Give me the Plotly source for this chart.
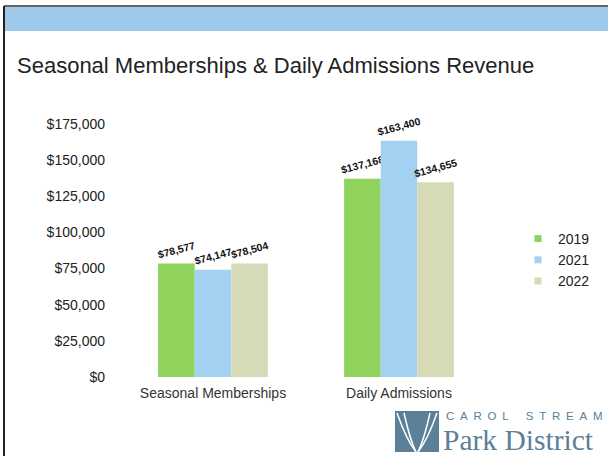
import plotly.graph_objects as go

categories = ["Seasonal Memberships", "Daily Admissions"]
years = ["2019", "2021", "2022"]
values_2019 = [78577, 137168]
values_2021 = [74147, 163400]
values_2022 = [78504, 134655]
y_ticks = [0, 25000, 50000, 75000, 100000, 125000, 150000, 175000]
y_tick_labels = ["$0", "$25,000", "$50,000", "$75,000", "$100,000", "$125,000", "$150,000", "$175,000"]

colors = {"2019": "#8fd35c", "2021": "#a3d1f2", "2022": "#d7dab6"}

W, H = 608, 456
L, R, T, B = 120, 116, 124, 79
PW, PH = W - L - R, H - T - B


def px(x):
    return (x - L) / PW


def py(y):
    return (H - B - y) / PH


fig = go.Figure()
for yr, vals in zip(years, [values_2019, values_2021, values_2022]):
    fig.add_trace(go.Bar(
        x=categories, y=vals, name=yr, marker_color=colors[yr],
        marker_line_width=0, showlegend=False, legendgroup=yr,
        texttemplate="<b>$%{y:,}</b>", textposition="outside", textangle=-15,
        constraintext="none",
        textfont=dict(size=10.5, color="#111", family="Liberation Sans, Arial"),
        cliponaxis=False,
    ))
for yr in years:
    fig.add_trace(go.Scatter(
        x=[None], y=[None], mode="markers", name=yr, legendgroup=yr,
        marker=dict(symbol="square", size=7, color=colors[yr]),
    ))

shapes = [
    dict(type="rect", xref="paper", yref="paper", x0=px(4), x1=px(608), y0=py(31), y1=py(7),
         fillcolor="#9ec9ea", line_width=0, layer="below"),
    dict(type="line", xref="paper", yref="paper", x0=px(4), x1=px(608), y0=py(6), y1=py(6),
         line=dict(color="#333", width=1.5)),
    dict(type="line", xref="paper", yref="paper", x0=px(4), x1=px(4), y0=py(6), y1=py(456),
         line=dict(color="#222", width=2)),
    dict(type="rect", xref="paper", yref="paper", x0=px(395), x1=px(439), y0=py(452), y1=py(411),
         fillcolor="#5b8097", line_width=0),
]
for (x0, x1) in [(397, 416), (404, 416), (437, 418), (430, 418)]:
    shapes.append(dict(type="path", xref="paper", yref="paper",
                       path=f"M {px(x0)},{py(413)} Q {px((x0 + x1) / 2)},{py(440)} {px(x1)},{py(452)}",
                       line=dict(color="white", width=1.5)))

sp = "\u2002"
carol = sp.join("CAROL") + sp * 3 + sp.join("STREAM")

annotations = [
    dict(text="Seasonal Memberships & Daily Admissions Revenue", xref="paper", yref="paper",
         x=px(15), y=py(65), xanchor="left", yanchor="middle", showarrow=False,
         font=dict(size=22, color="#222", family="Liberation Sans, Arial")),
    dict(text=carol, xref="paper", yref="paper", borderpad=0,
         x=px(445), y=py(416), xanchor="left", yanchor="middle", showarrow=False,
         font=dict(size=11.5, color="#5b8097", family="Liberation Sans, Arial")),
    dict(text="Park District", xref="paper", yref="paper", borderpad=0,
         x=px(442), y=py(440), xanchor="left", yanchor="middle", showarrow=False,
         font=dict(size=29.5, color="#5b8097", family="Liberation Serif, DejaVu Serif")),
]

fig.update_layout(
    width=W, height=H, margin=dict(l=L, r=R, t=T, b=B),
    paper_bgcolor="white", plot_bgcolor="white",
    barmode="group", bargap=0.41, bargroupgap=0,
    showlegend=True,
    legend=dict(x=px(518), y=py(223), xanchor="left", yanchor="top",
                font=dict(size=14, color="#222", family="Liberation Sans, Arial"),
                itemwidth=30, tracegroupgap=0, bgcolor="rgba(0,0,0,0)"),
    xaxis=dict(showline=False, showgrid=False, ticks="", ticklabelstandoff=6,
               tickfont=dict(size=14, color="#333", family="Liberation Sans, Arial")),
    yaxis=dict(range=[0, 175000], tickvals=y_ticks, ticktext=y_tick_labels,
               showgrid=False, showline=False, zeroline=False, ticks="", ticklabelstandoff=14,
               tickfont=dict(size=14, color="#222", family="Liberation Sans, Arial")),
    shapes=shapes, annotations=annotations,
    font=dict(family="Liberation Sans, Arial"),
)

fig.write_html("out.html", config={"displayModeBar": False},
               post_script="document.body.style.margin='0px';")
